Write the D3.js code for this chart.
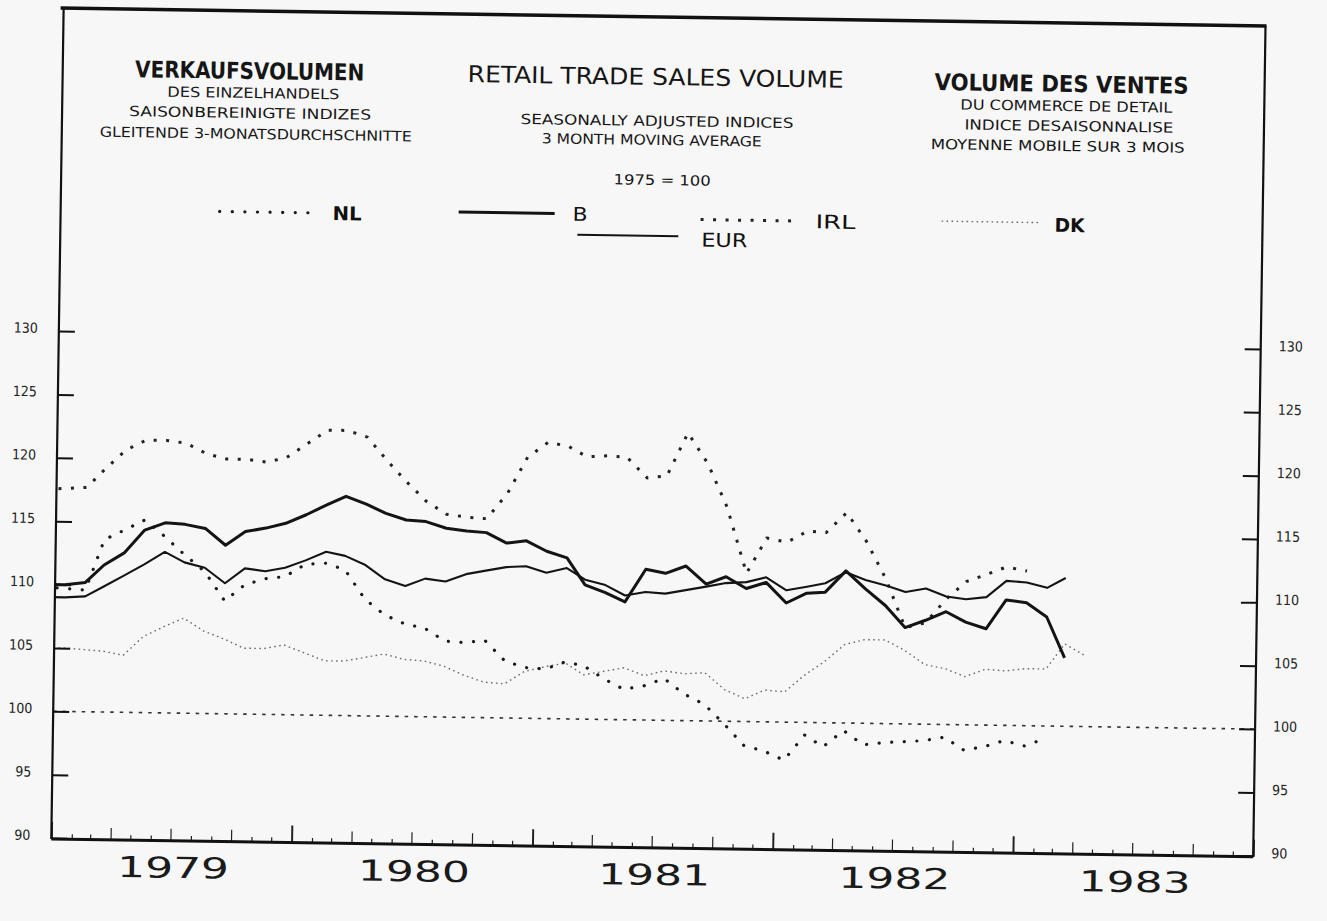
<!DOCTYPE html>
<html>
<head>
<meta charset="utf-8">
<script src="https://cdn.jsdelivr.net/npm/d3@7"></script>
<style>
  html, body { margin: 0; padding: 0; background: #f7f7f7; }
  svg { display: block; }
</style>
</head>
<body>
<div id="chart"></div>
<script>
// Monthly 3-month moving averages, 1975 = 100, first value is Dec 1978
const FIRST_MONTH = [1978, 11];

const B = [110.0, 110.0, 110.2, 111.6, 112.6, 114.4, 115.0, 114.9, 114.6, 113.3, 114.4, 114.7, 115.1,
  115.8, 116.6, 117.3, 116.7, 116.0, 115.5, 115.4, 114.9, 114.7, 114.6, 113.8, 114.0, 113.2, 112.7,
  110.6, 110.0, 109.3, 111.9, 111.6, 112.2, 110.8, 111.4, 110.5, 111.0, 109.4, 110.2, 110.3, 112.0,
  110.6, 109.3, 107.6, 108.2, 108.9, 108.1, 107.6, 109.9, 109.7, 108.6, 105.4];

const EUR = [109.0, 109.0, 109.1, 109.9, 110.8, 111.7, 112.7, 111.9, 111.5, 110.3, 111.5, 111.3, 111.6,
  112.2, 112.9, 112.6, 111.9, 110.8, 110.3, 110.9, 110.7, 111.3, 111.6, 111.9, 112.0, 111.5, 111.9,
  111.0, 110.6, 109.8, 110.1, 110.0, 110.3, 110.6, 110.9, 111.0, 111.4, 110.4, 110.7, 111.0, 111.9,
  111.3, 110.9, 110.4, 110.7, 110.1, 109.9, 110.1, 111.4, 111.3, 110.9, 111.7];

const IRL = [117.5, 117.6, 117.7, 119.2, 120.7, 121.5, 121.5, 121.3, 120.5, 120.1, 120.1, 119.9, 120.3,
  121.4, 122.5, 122.5, 122.0, 120.2, 118.5, 117.0, 116.0, 115.8, 115.7, 117.7, 120.6, 121.8, 121.5,
  120.7, 120.8, 120.7, 119.1, 119.3, 122.7, 120.3, 116.9, 111.7, 114.5, 114.2, 115.1, 115.0, 116.6,
  114.4, 111.4, 107.6, 108.0, 109.9, 111.3, 111.9, 112.5, 112.2];

const NL = [109.8, 109.7, 109.6, 113.6, 114.4, 115.2, 113.9, 112.5, 111.2, 108.9, 110.2, 110.7, 110.9,
  111.9, 112.0, 111.5, 109.2, 108.0, 107.3, 107.0, 106.0, 105.9, 106.1, 104.5, 104.0, 103.9, 104.5,
  104.2, 103.2, 102.4, 102.7, 103.3, 102.1, 101.3, 99.8, 98.1, 97.7, 97.0, 99.0, 98.1, 99.4,
  98.3, 98.5, 98.6, 98.7, 99.0, 98.0, 98.3, 98.8, 98.4, 99.0];

const DK = [105.0, 105.0, 104.9, 104.8, 104.5, 106.0, 106.8, 107.5, 106.5, 105.9, 105.2, 105.2, 105.5,
  104.9, 104.3, 104.3, 104.6, 104.9, 104.5, 104.4, 104.0, 103.3, 102.8, 102.7, 103.7, 104.1, 104.4,
  103.5, 103.8, 104.1, 103.5, 103.9, 103.7, 103.8, 102.5, 101.8, 102.5, 102.4, 103.8, 104.8, 106.2,
  106.6, 106.6, 105.8, 104.7, 104.4, 103.8, 104.4, 104.3, 104.5, 104.5, 106.5, 105.6];

const Y_TICKS = [90, 95, 100, 105, 110, 115, 120, 125, 130];
const YEARS = [1979, 1980, 1981, 1982, 1983];
const BASE_VALUE = 100;

const TITLE_DE = ['VERKAUFSVOLUMEN', 'DES EINZELHANDELS', 'SAISONBEREINIGTE INDIZES', 'GLEITENDE 3-MONATSDURCHSCHNITTE'];
const TITLE_EN = ['RETAIL TRADE SALES VOLUME', 'SEASONALLY ADJUSTED INDICES', '3 MONTH MOVING AVERAGE', '1975 = 100'];
const TITLE_FR = ['VOLUME DES VENTES', 'DU COMMERCE DE DETAIL', 'INDICE DESAISONNALISE', 'MOYENNE MOBILE SUR 3 MOIS'];

const chart = {
  width: 1327,
  height: 921,
  left: 57,
  right: 1259,
  top: 17,
  bottom: 848,
  font: '"DejaVu Sans Condensed", "DejaVu Sans", sans-serif',

  styles: {
    NL: { stroke: '#1a1a1a', width: 3.2, dash: '0.1 12.5', cap: 'round' },
    B: { stroke: '#141414', width: 3, dash: null, cap: 'butt' },
    EUR: { stroke: '#141414', width: 2.1, dash: null, cap: 'butt' },
    IRL: { stroke: '#222222', width: 3, dash: '3 9.5', cap: 'butt' },
    DK: { stroke: '#6a6a6a', width: 1.4, dash: '1.6 3.4', cap: 'butt' },
  },

  draw() {
    const svg = d3.select('#chart').append('svg')
      .attr('width', this.width)
      .attr('height', this.height)
      .style('background', '#f7f7f7');

    // the scanned page sits slightly askew
    const page = svg.append('g')
      .attr('transform', 'rotate(0.85 660 460)');

    const x = d3.scaleTime()
      .domain([new Date(1979, 0, 1), new Date(1984, 0, 1)])
      .range([this.left, this.right]);

    const y = d3.scaleLinear()
      .domain([90, 130])
      .range([847, 340]);

    const monthDate = i => new Date(FIRST_MONTH[0], FIRST_MONTH[1] + i, 16);

    page.append('defs').append('clipPath')
      .attr('id', 'plot-clip')
      .append('rect')
      .attr('x', this.left)
      .attr('y', this.top)
      .attr('width', this.right - this.left)
      .attr('height', this.bottom - this.top);

    this.drawTitles(page);
    this.drawLegend(page);

    // reference line at 100
    page.append('line')
      .attr('x1', this.left)
      .attr('x2', this.right)
      .attr('y1', y(BASE_VALUE))
      .attr('y2', y(BASE_VALUE))
      .attr('stroke', '#333')
      .attr('stroke-width', 1.6)
      .attr('stroke-dasharray', '3.5 6');

    const line = d3.line()
      .x((d, i) => x(monthDate(i)))
      .y(d => y(d));

    const series = [
      { name: 'DK', values: DK },
      { name: 'NL', values: NL },
      { name: 'IRL', values: IRL },
      { name: 'EUR', values: EUR },
      { name: 'B', values: B },
    ];

    page.append('g')
      .attr('class', 'series')
      .attr('clip-path', 'url(#plot-clip)')
      .selectAll('path')
      .data(series)
      .enter().append('path')
      .attr('d', d => line(d.values))
      .attr('fill', 'none')
      .attr('stroke', d => this.styles[d.name].stroke)
      .attr('stroke-width', d => this.styles[d.name].width)
      .attr('stroke-dasharray', d => this.styles[d.name].dash)
      .attr('stroke-linecap', d => this.styles[d.name].cap)
      .attr('stroke-linejoin', 'round');

    this.drawAxes(page, x, y);
  },

  drawAxes(page, x, y) {
    const leftAxis = page.append('g')
      .attr('transform', `translate(${this.left},0)`)
      .call(d3.axisLeft(y)
        .tickValues(Y_TICKS)
        .tickSizeInner(-16)
        .tickSizeOuter(0)
        .tickPadding(21));

    const rightAxis = page.append('g')
      .attr('transform', `translate(${this.right},0)`)
      .call(d3.axisRight(y)
        .tickValues(Y_TICKS)
        .tickSizeInner(-16)
        .tickSizeOuter(0)
        .tickPadding(18));

    [leftAxis, rightAxis].forEach((a) => {
      a.select('.domain').remove();
      a.selectAll('.tick line')
        .attr('stroke', '#111')
        .attr('stroke-width', 2);
      a.selectAll('.tick text')
        .attr('fill', '#222')
        .attr('dy', '0.12em')
        .style('font-family', this.font)
        .style('font-size', '14px');
    });

    const bottomAxis = page.append('g')
      .attr('transform', `translate(0,${this.bottom})`)
      .call(d3.axisBottom(x)
        .ticks(d3.timeMonth.every(1))
        .tickSizeInner(-5)
        .tickSizeOuter(0)
        .tickFormat(''));

    bottomAxis.select('.domain').remove();
    bottomAxis.selectAll('.tick line')
      .attr('stroke', '#222')
      .attr('stroke-width', d => (d.getMonth() === 0 ? 2 : 1.2))
      .attr('y2', (d) => {
        if (d.getMonth() === 0) return -17;
        if (d.getMonth() % 3 === 0) return -12;
        return -5;
      });

    // year labels sit in the middle of each year
    page.append('g')
      .attr('class', 'years')
      .selectAll('text')
      .data(YEARS)
      .enter().append('text')
      .attr('x', d => x(new Date(d, 6, 1)) + 3)
      .attr('y', 885)
      .attr('text-anchor', 'middle')
      .attr('textLength', 112)
      .attr('lengthAdjust', 'spacingAndGlyphs')
      .attr('fill', '#1a1a1a')
      .style('font-family', '"DejaVu Sans", sans-serif')
      .style('font-size', '29px')
      .text(d => d);

    // frame: top rule, both verticals and the base line
    const frame = page.append('g').attr('class', 'frame').attr('stroke', '#111');
    frame.append('line')
      .attr('x1', this.left - 3).attr('x2', this.right + 1)
      .attr('y1', this.top).attr('y2', this.top)
      .attr('stroke-width', 3.5);
    frame.append('line')
      .attr('x1', this.left).attr('x2', this.left)
      .attr('y1', this.top).attr('y2', this.bottom)
      .attr('stroke-width', 2.2);
    frame.append('line')
      .attr('x1', this.right).attr('x2', this.right)
      .attr('y1', this.top).attr('y2', this.bottom)
      .attr('stroke-width', 2.2);
    frame.append('line')
      .attr('x1', this.left).attr('x2', this.right)
      .attr('y1', this.bottom).attr('y2', this.bottom)
      .attr('stroke-width', 3);
  },

  drawTitles(page) {
    // [text, centre x, centre y, font size, measured width, weight]
    const rows = [
      [TITLE_DE[0], 244, 77, 23, 229, 700],
      [TITLE_DE[1], 248, 99, 14, 172, 400],
      [TITLE_DE[2], 245, 119, 14, 242, 400],
      [TITLE_DE[3], 251, 140, 14, 312, 400],
      [TITLE_EN[0], 650, 77, 23, 376, 400],
      [TITLE_EN[1], 652, 121, 14, 273, 400],
      [TITLE_EN[2], 647, 140, 14, 220, 400],
      [TITLE_EN[3], 658, 180, 14, 97, 400],
      [TITLE_FR[0], 1056, 78, 23, 254, 700],
      [TITLE_FR[1], 1061, 100, 14, 212, 400],
      [TITLE_FR[2], 1064, 120, 14, 209, 400],
      [TITLE_FR[3], 1053, 140, 14, 254, 400],
    ];

    page.append('g')
      .attr('class', 'titles')
      .selectAll('text')
      .data(rows)
      .enter().append('text')
      .attr('x', d => d[1])
      .attr('y', d => d[2])
      .attr('text-anchor', 'middle')
      .attr('dominant-baseline', 'central')
      .attr('textLength', d => d[4])
      .attr('lengthAdjust', 'spacingAndGlyphs')
      .attr('fill', '#161616')
      .style('font-family', this.font)
      .style('font-size', d => `${d[3]}px`)
      .style('font-weight', d => d[5])
      .text(d => d[0]);
  },

  drawLegend(page) {
    // [series, sample x0, sample x1, sample y, label x, label y, label width]
    const items = [
      ['NL', 216, 311, 218, 329, 218, 29],
      ['B', 455, 551, 215, 569, 215, 15],
      ['EUR', 574, 675, 236, 698, 239, 46],
      ['IRL', 697, 792, 219, 812, 219, 40],
      ['DK', 938, 1035, 217, 1051, 219, 30],
    ];

    const legend = page.append('g').attr('class', 'legend');

    items.forEach((it) => {
      const s = this.styles[it[0]];
      legend.append('path')
        .attr('d', d3.line()([[it[1], it[3]], [it[2], it[3]]]))
        .attr('fill', 'none')
        .attr('stroke', s.stroke)
        .attr('stroke-width', s.width)
        .attr('stroke-dasharray', s.dash)
        .attr('stroke-linecap', s.cap);

      legend.append('text')
        .attr('x', it[4])
        .attr('y', it[5])
        .attr('dominant-baseline', 'central')
        .attr('textLength', it[6])
        .attr('lengthAdjust', 'spacingAndGlyphs')
        .attr('fill', '#111')
        .style('font-family', this.font)
        .style('font-size', '19px')
        .style('font-weight', it[0] === 'NL' || it[0] === 'DK' ? 700 : 400)
        .text(it[0]);
    });
  },
};

chart.draw();
</script>
</body>
</html>
